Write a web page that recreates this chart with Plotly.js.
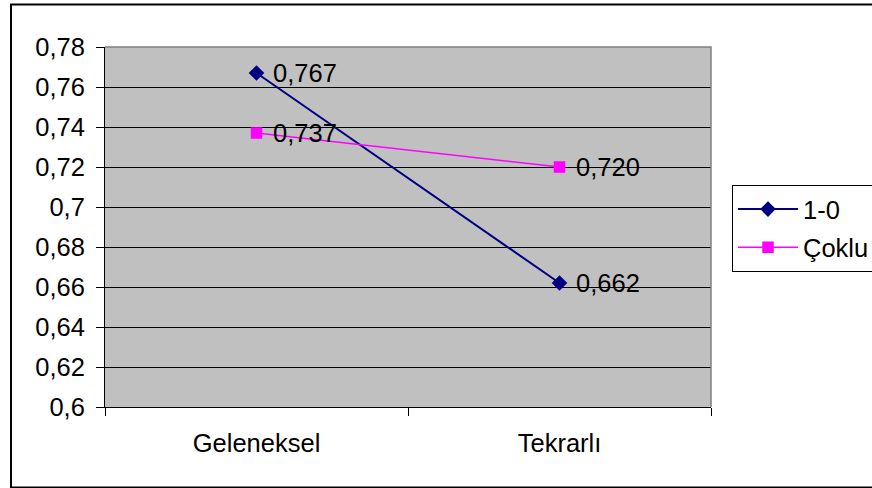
<!DOCTYPE html>
<html>
<head>
<meta charset="utf-8">
<script src="https://cdn.plot.ly/plotly-3.0.1.min.js"></script>
<style>
html,body{margin:0;padding:0;background:#fff;}
#chart{width:872px;height:488px;}
</style>
</head>
<body>
<div id="chart"></div>
<script>
const categories = ["Geleneksel", "Tekrarlı"];
const series10 = [0.767, 0.662];
const seriesCoklu = [0.737, 0.720];
const seriesNames = ["1-0", "Çoklu"];
const yTickVals = [0.6, 0.62, 0.64, 0.66, 0.68, 0.7, 0.72, 0.74, 0.76, 0.78];
const yTickText = ["0,6", "0,62", "0,64", "0,66", "0,68", "0,7", "0,72", "0,74", "0,76", "0,78"];

const FONT = "Liberation Sans, Arial, sans-serif";
const FS = 25.5;
const fmt = v => v.toFixed(3).replace('.', ',');

const traces = [
  {
    x: categories, y: series10, name: seriesNames[0], type: 'scatter', mode: 'lines+markers',
    line: {color: '#000080', width: 2},
    marker: {symbol: 'diamond', size: 12, color: '#000080'},
    legendgroup: 'a'
  },
  {
    x: categories, y: seriesCoklu, name: seriesNames[1], type: 'scatter', mode: 'lines+markers',
    line: {color: '#FF00FF', width: 1.5},
    marker: {symbol: 'square', size: 11.5, color: '#FF00FF'},
    legendgroup: 'b'
  }
];

const annotations = [];
[series10, seriesCoklu].forEach(arr => {
  arr.forEach((v, i) => {
    annotations.push({
      x: categories[i], y: v, xref: 'x', yref: 'y', text: fmt(v),
      showarrow: false, xanchor: 'left', yanchor: 'middle', xshift: 14,
      font: {family: FONT, size: FS, color: '#000'}
    });
  });
});

const W = 872, H = 488, L = 105, R = 161, T = 47, B = 81;
const pw = W - L - R, ph = H - T - B;
const px = x => (x - L) / pw;
const py = y => (H - B - y) / ph;

const layout = {
  width: W, height: H,
  margin: {l: L, r: R, t: T, b: B, autoexpand: false},
  paper_bgcolor: '#ffffff',
  plot_bgcolor: '#C0C0C0',
  separators: ',.',
  font: {family: FONT, size: FS, color: '#000'},
  showlegend: true,
  legend: {
    x: px(732), y: py(185), xanchor: 'left', yanchor: 'top',
    bgcolor: '#ffffff', bordercolor: '#000', borderwidth: 1,
    font: {family: FONT, size: FS, color: '#000'},
    traceorder: 'grouped', tracegroupgap: 2, itemwidth: 60
  },
  xaxis: {
    type: 'category', range: [-0.5, 1.5],
    showgrid: false, showline: true, linecolor: '#000', linewidth: 1,
    ticks: 'outside', tickson: 'boundaries', ticklen: 8, tickcolor: '#000',
    ticklabelstandoff: 13,
    tickfont: {family: FONT, size: FS, color: '#000'},
    fixedrange: true
  },
  yaxis: {
    range: [0.6, 0.78], tickvals: yTickVals, ticktext: yTickText,
    showgrid: true, gridcolor: '#000', gridwidth: 1,
    zeroline: false, showline: true, linecolor: '#000', linewidth: 1,
    ticks: 'outside', ticklen: 8, tickcolor: '#000',
    ticklabelstandoff: 6,
    tickfont: {family: FONT, size: FS, color: '#000'},
    fixedrange: true
  },
  annotations: annotations,
  shapes: [
    {type: 'path', xref: 'paper', yref: 'paper', path: 'M0,1 H1 V0', line: {color: '#808080', width: 1.5}, layer: 'above'},
    {type: 'rect', xref: 'paper', yref: 'paper', x0: px(11), x1: px(876), y0: py(487.5), y1: py(4.5), line: {color: '#000', width: 2}, layer: 'above'}
  ]
};

Plotly.newPlot('chart', traces, layout, {displayModeBar: false, staticPlot: true});
</script>
</body>
</html>
